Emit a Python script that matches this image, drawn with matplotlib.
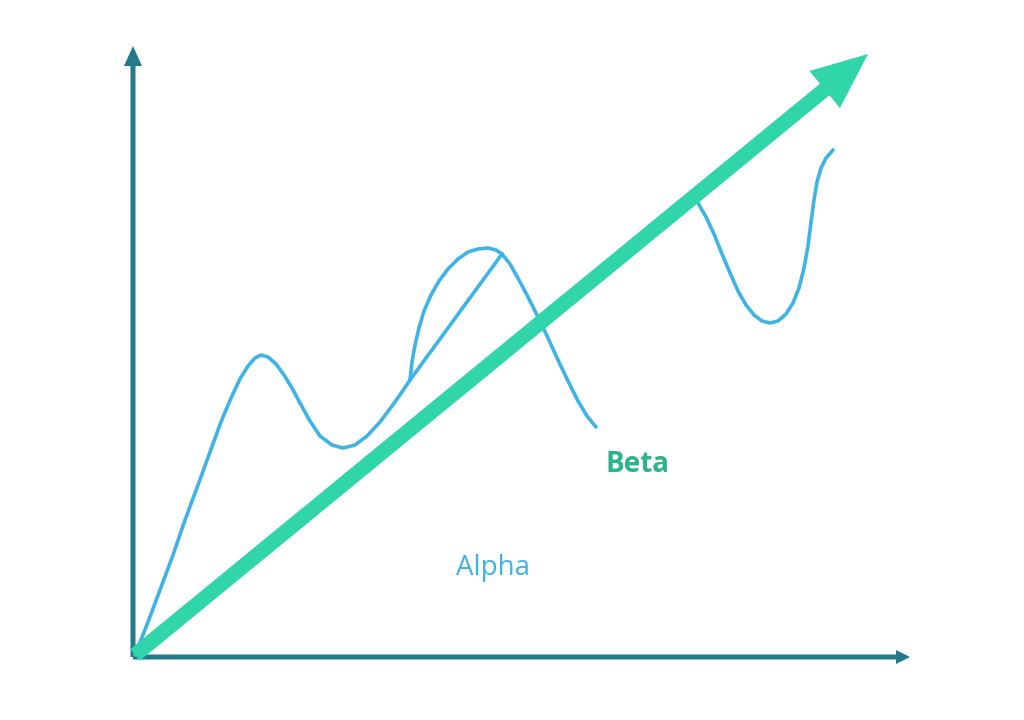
import matplotlib.pyplot as plt
from matplotlib.patches import FancyArrow

# sketch coordinates (x right, y down, in pixels)
alpha_main_x = [135, 148, 160, 173, 185, 198, 210, 221, 231, 240, 248, 255, 261, 268, 276, 284, 292,
                300, 310, 320, 332, 343, 355, 367, 380, 392, 402, 410]
alpha_main_y = [655, 622, 590, 555, 520, 485, 452, 422, 398, 379, 366, 358, 355, 357, 364, 375, 388,
                403, 421, 436, 445, 448, 445, 436, 422, 406, 392, 380]
alpha_arc_x = [410, 412, 415, 419, 424, 431, 439, 448, 458, 468, 478, 488, 496, 502]
alpha_arc_y = [380, 362, 345, 328, 311, 295, 281, 269, 259, 252, 249, 248, 250, 254]
alpha_chord_x = [410, 502]
alpha_chord_y = [380, 254]
alpha_fall_x = [502, 510, 519, 528, 538, 548, 558, 568, 578, 587, 596]
alpha_fall_y = [254, 264, 280, 297, 317, 338, 360, 381, 401, 416, 427]
alpha_tail_x = [698, 706, 714, 722, 730, 738, 746, 754, 762, 770, 778, 786, 793, 799, 804,
                808, 811, 814, 817, 821, 826, 833]
alpha_tail_y = [203, 217, 234, 254, 273, 291, 305, 315, 321, 323, 321, 314, 303, 288, 268,
                246, 222, 200, 182, 168, 158, 150]

beta_start = (135, 655)
beta_end = (868, 54)

origin = (133, 657)
y_axis_top = 46
x_axis_right = 910

label_beta = ("Beta", 637, 464)
label_alpha = ("Alpha", 493, 568)

axis_color = "#237a8c"
alpha_color = "#3eb4e6"
beta_color = "#30d6a9"

fig = plt.figure(figsize=(10.24, 7.2), dpi=100)
ax = fig.add_axes([0, 0, 1, 1])
ax.set_xlim(0, 1024)
ax.set_ylim(720, 0)
ax.axis("off")

# axes with arrowheads
ax.add_patch(FancyArrow(origin[0], origin[1], 0, y_axis_top - origin[1], width=5,
                        head_width=18, head_length=20, length_includes_head=True,
                        color=axis_color, lw=0, zorder=2))
ax.add_patch(FancyArrow(origin[0], origin[1], x_axis_right - origin[0], 0, width=5,
                        head_width=14, head_length=14, length_includes_head=True,
                        color=axis_color, lw=0, zorder=2))

# alpha curve
for xs, ys in [(alpha_main_x, alpha_main_y), (alpha_arc_x, alpha_arc_y),
               (alpha_chord_x, alpha_chord_y), (alpha_fall_x, alpha_fall_y),
               (alpha_tail_x, alpha_tail_y)]:
    ax.plot(xs, ys, color=alpha_color, lw=2.6, solid_capstyle="round",
            solid_joinstyle="round", zorder=3)

# beta arrow
ax.add_patch(FancyArrow(beta_start[0], beta_start[1], beta_end[0] - beta_start[0],
                        beta_end[1] - beta_start[1], width=15, head_width=48,
                        head_length=56, length_includes_head=True,
                        color=beta_color, lw=0, zorder=4))

ax.text(label_beta[1], label_beta[2], label_beta[0], color="#2bb38a", fontsize=20,
        fontweight="bold", family="Open Sans", ha="center", va="center")
ax.text(label_alpha[1], label_alpha[2], label_alpha[0], color=alpha_color, fontsize=20,
        fontweight="medium", family="Open Sans", ha="center", va="center")

fig.savefig("out.png", dpi=100, facecolor="white")
